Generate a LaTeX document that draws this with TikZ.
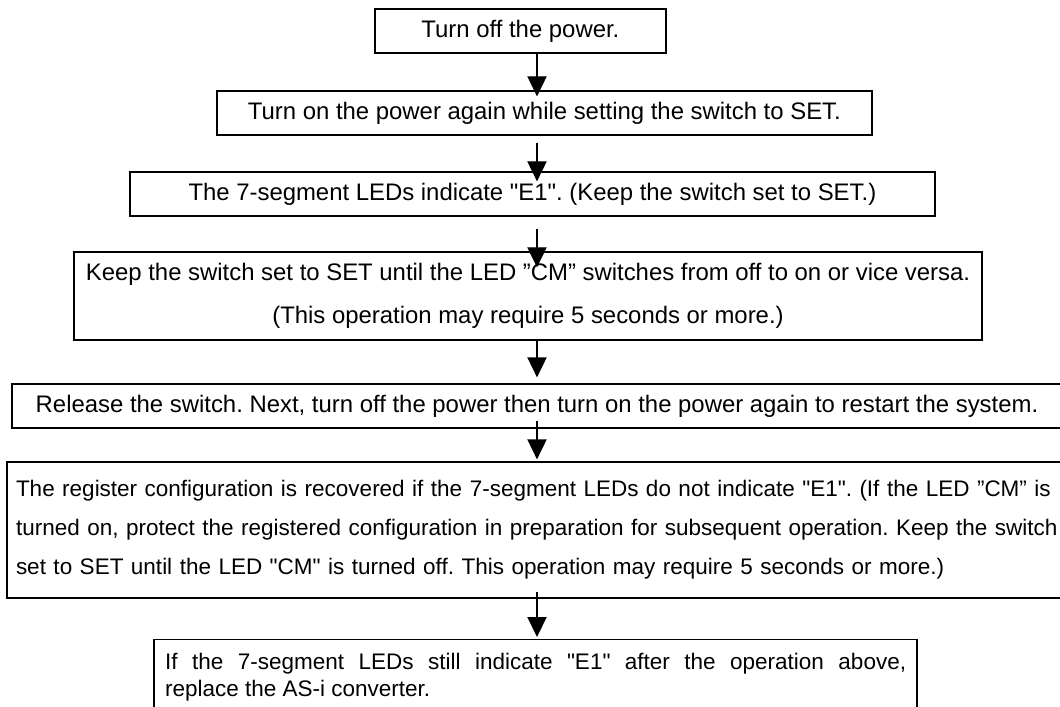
\documentclass[tikz,border=0pt]{standalone}
\usepackage{fontspec}
\setmainfont{Liberation Sans}[Ligatures=TeXOff]
\frenchspacing
\usetikzlibrary{arrows.meta,positioning}
\definecolor{ink}{HTML}{000000}
\tikzset{
  stepbox/.style={
    draw=ink,
    text=ink,
    line width=0.9pt,
    minimum height=1.1cm,
    inner xsep=4pt,
    inner ysep=3pt,
    align=center,
    font=\fontsize{17}{30.6}\selectfont
  },
  twoline/.style={
    stepbox,
    minimum height=2.2cm
  },
  notebox/.style={
    stepbox,
    align=left,
    inner xsep=0.225cm,
    minimum height=3.4cm,
    font=\fontsize{16}{27.7}\selectfont
  },
  lastbox/.style={
    stepbox,
    align=justify,
    anchor=north,
    inner xsep=0.275cm,
    inner ysep=0.35cm,
    font=\fontsize{16}{19.2}\selectfont
  },
  flow/.style={
    -{Triangle[length=0.5cm,width=0.48cm]},
    draw=ink,
    line width=0.9pt
  }
}
\begin{document}
\begin{tikzpicture}
  \useasboundingbox (0,0) rectangle (26.5,-17.675);

  % Steps, top to bottom.
  \node[stepbox,minimum width=7.275cm] (poweroff) at (13.01,-0.775)
    {Turn off the power.};

  \node[stepbox,minimum width=16.375cm] (poweron) at (13.61,-2.825)
    {Turn on the power again while setting the switch to SET.};

  \node[stepbox,minimum width=20.125cm] (showe1) at (13.31,-4.85)
    {The 7-segment LEDs indicate "E1". (Keep the switch set to SET.)};

  \node[twoline,minimum width=22.7cm] (holdset) at (13.2,-7.4)
    {Keep the switch set to SET until the LED ”CM” switches from off to on or vice versa.\\
     (This operation may require 5 seconds or more.)};

  \node[stepbox,minimum width=26.25cm] (restart) at (13.425,-10.15)
    {Release the switch. Next, turn off the power then turn on the power again to restart the system.};

  \node[notebox,minimum width=26.45cm,text width=26.4cm] (recovered) at (13.6,-13.25)
    {The register configuration is recovered if the 7-segment LEDs do not indicate "E1". (If the LED ”CM” is\\
     turned on, protect the registered configuration in preparation for subsequent operation. Keep the switch\\
     set to SET until the LED "CM" is turned off. This operation may require 5 seconds or more.)};

  \node[lastbox,text width=18.525cm] (replace) at (13.39,-15.975)
    {If the 7-segment LEDs still indicate "E1" after the operation above,\linebreak
     replace the AS-i converter.};

  % Arrows all run down one vertical line.
  \coordinate (spine) at (13.425,0);
  \draw[flow,shorten >=-0.15cm] (poweroff.south -| spine) -- (poweron.north -| spine);
  \draw[flow,shorten <=0.175cm,shorten >=-0.25cm] (poweron.south -| spine) -- (showe1.north -| spine);
  \draw[flow,shorten <=0.3cm,shorten >=-0.4cm] (showe1.south -| spine) -- (holdset.north -| spine);
  \draw[flow,shorten >=0.15cm] (holdset.south -| spine) -- (restart.north -| spine);
  \draw[flow,shorten <=-0.2cm,shorten >=0.05cm] (restart.south -| spine) -- (recovered.north -| spine);
  \draw[flow,shorten <=-0.175cm,shorten >=0.05cm] (recovered.south -| spine) -- (replace.north -| spine);

\end{tikzpicture}
\end{document}
